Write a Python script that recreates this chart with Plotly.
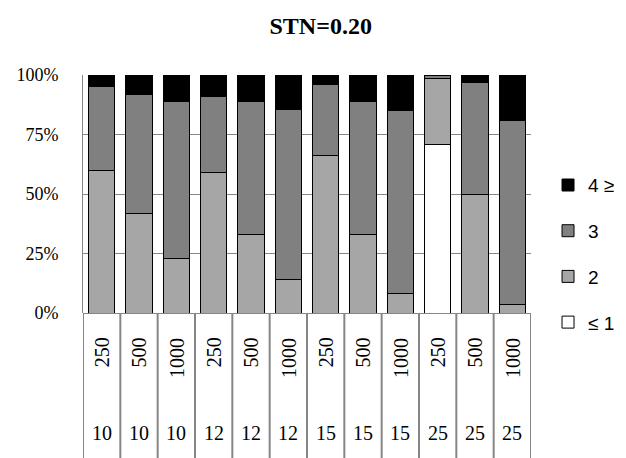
import plotly.graph_objects as go

# Category levels (outer = bottom row, inner = rotated row)
outer = [10, 10, 10, 12, 12, 12, 15, 15, 15, 25, 25, 25]
inner = [250, 500, 1000, 250, 500, 1000, 250, 500, 1000, 250, 500, 1000]

# Percent shares per class
p_le1 = [None, None, None, None, None, None, None, None, None, 71, None, None]
p_2 = [60, 42, 23, 59, 33, 14, 66, 33, 8, 27.7, 50, 3.5]
p_3 = [35, 50, 66, 32, 56, 71.5, 30, 56, 77, 1.3, 47, 77.5]
p_4 = [5, 8, 11, 9, 11, 14.5, 4, 11, 15, None, 3, 19]

series_names = ["\u2264 1", "2", "3", "4 \u2265"]
series_vals = [p_le1, p_2, p_3, p_4]
series_colors = ["#FFFFFF", "#A6A6A6", "#808080", "#000000"]
legend_ranks = [4, 3, 2, 1]

y_ticks = [0, 25, 50, 75, 100]
y_ticktext = ["0%", "25%", "50%", "75%", "100%"]

cats = [f"{o}/{i}" for o, i in zip(outer, inner)]

fig = go.Figure()
for name, vals, col, rk in zip(series_names, series_vals, series_colors, legend_ranks):
    fig.add_trace(go.Bar(
        x=cats, y=vals, name=name, legendgroup=name, legendrank=rk,
        marker=dict(color=col, line=dict(color="#000000", width=1)),
    ))

serif = "Liberation Serif, Times New Roman, serif"
grid_col = "#868686"

annotations = []
for c, i, o in zip(cats, inner, outer):
    annotations.append(dict(x=c, y=-0.095, xref="x", yref="paper", text=str(i),
                            textangle=-90, showarrow=False, xanchor="center", yanchor="top",
                            font=dict(family=serif, size=20, color="#000000")))
    annotations.append(dict(x=c, y=-0.505, xref="x", yref="paper", text=str(o),
                            showarrow=False, xanchor="center", yanchor="middle",
                            font=dict(family=serif, size=20, color="#000000")))

shapes = []
for k in range(len(cats) + 1):
    shapes.append(dict(type="line", xref="x", yref="paper", x0=k - 0.5, x1=k - 0.5,
                       y0=0, y1=-0.65, line=dict(color=grid_col, width=2)))

fig.update_layout(
    width=618, height=450,
    barmode="stack", bargap=0.3,
    plot_bgcolor="#FFFFFF", paper_bgcolor="#FFFFFF",
    margin=dict(l=75, r=95, t=67, b=145, autoexpand=False),
    title=dict(text="<b>STN=0.20</b>", x=0.506, xanchor="center", y=0.96, yanchor="middle",
               font=dict(family=serif, size=24, color="#000000")),
    xaxis=dict(showticklabels=False, showgrid=False, zeroline=False, showline=False,
               range=[-0.5, len(cats) - 0.5]),
    yaxis=dict(range=[0, 100], tickvals=y_ticks, ticktext=y_ticktext, showgrid=True,
               gridcolor=grid_col, gridwidth=1, zeroline=True, zerolinecolor=grid_col,
               zerolinewidth=1, showline=True, linecolor=grid_col, linewidth=1,
               ticks="", ticklabelstandoff=20,
               tickfont=dict(family=serif, size=18, color="#000000")),
    legend=dict(x=1.038, xanchor="left", y=0.617, yanchor="top", traceorder="grouped",
                tracegroupgap=18, font=dict(family="Liberation Sans, Arial, sans-serif", size=19,
                                            color="#000000"),
                bgcolor="rgba(0,0,0,0)"),
    annotations=annotations,
    shapes=shapes,
)

fig.write_html("out.html")
